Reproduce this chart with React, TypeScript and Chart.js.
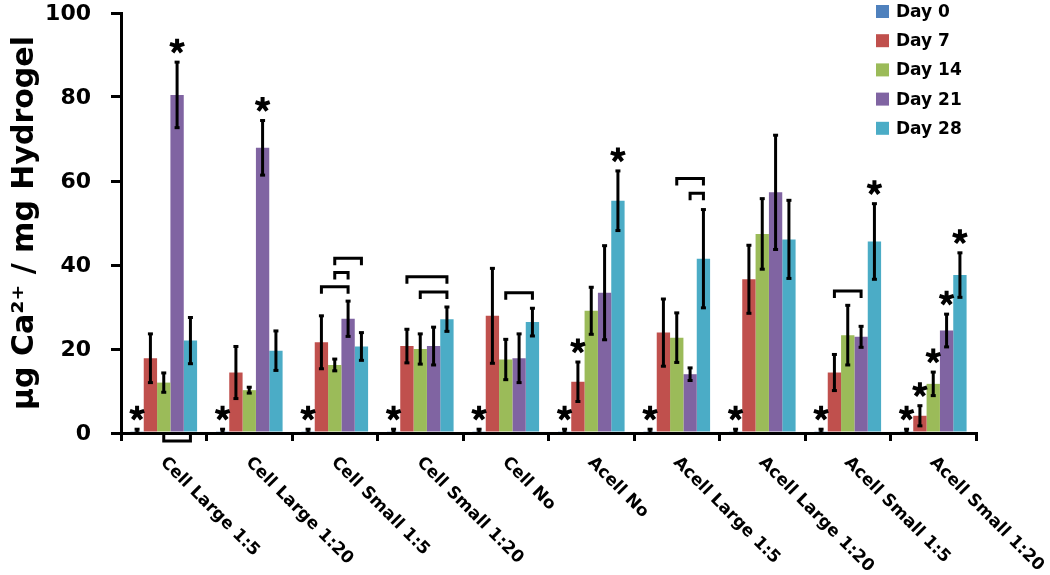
import React, { useEffect, useRef } from 'react';
import { Chart, registerables } from 'chart.js';

Chart.register(...registerables);

const FONT = '"DejaVu Sans", sans-serif';

const categories = [
  'Cell Large 1:5',
  'Cell Large 1:20',
  'Cell Small 1:5',
  'Cell Small 1:20',
  'Cell No',
  'Acell No',
  'Acell Large 1:5',
  'Acell Large 1:20',
  'Acell Small 1:5',
  'Acell Small 1:20',
];

const seriesLabels = ['Day 0', 'Day 7', 'Day 14', 'Day 21', 'Day 28'];
const seriesColors = ['#4F81BD', '#C0504D', '#9BBB59', '#8064A2', '#4BACC6'];

const day0 = [0.3, 0.3, 0.3, 0.3, 0.3, 0.3, 0.3, 0.3, 0.3, 0.3];
const day7 = [17.8, 14.4, 21.6, 20.7, 27.9, 12.2, 23.9, 36.6, 14.4, 4.1];
const day14 = [12.0, 10.2, 16.2, 20.0, 17.5, 29.1, 22.7, 47.4, 23.3, 11.7];
const day21 = [80.5, 67.9, 27.2, 20.7, 17.8, 33.4, 14.0, 57.3, 22.9, 24.4];
const day28 = [22.0, 19.6, 20.6, 27.1, 26.4, 55.3, 41.5, 46.1, 45.6, 37.6];

const day0Err = [0.6, 0.6, 0.6, 0.6, 0.6, 0.6, 0.6, 0.6, 0.6, 0.6];
const day7Err = [5.8, 6.2, 6.3, 4.0, 11.3, 4.7, 8.0, 8.1, 4.3, 2.4];
const day14Err = [2.3, 0.7, 1.4, 3.6, 4.8, 5.6, 5.9, 8.4, 7.1, 2.8];
const day21Err = [7.8, 6.5, 4.2, 4.5, 5.8, 11.2, 1.5, 13.6, 2.5, 3.9];
const day28Err = [5.5, 4.7, 3.3, 2.9, 3.3, 7.1, 11.7, 9.3, 9.0, 5.3];

// significance stars (1 = star above the bar)
const day0Star = [1, 1, 1, 1, 1, 1, 1, 1, 1, 1];
const day7Star = [0, 0, 0, 0, 0, 1, 0, 0, 0, 1];
const day14Star = [0, 0, 0, 0, 0, 0, 0, 0, 0, 1];
const day21Star = [1, 1, 0, 0, 0, 0, 0, 0, 0, 1];
const day28Star = [0, 0, 0, 0, 0, 1, 0, 0, 1, 1];

// comparison brackets: group index, from series, to series, level (data units)
const bracketGroup = [0, 2, 2, 2, 3, 3, 4, 6, 6, 8];
const bracketFrom = [2, 1, 2, 2, 1, 2, 2, 2, 3, 1];
const bracketTo = [4, 3, 3, 4, 4, 4, 4, 4, 4, 3];
const bracketLevel = [-1.9, 34.8, 38.2, 41.6, 37.2, 33.6, 33.4, 60.6, 57.1, 33.8];

const yMin = 0;
const yMax = 100;
const yStep = 20;

const seriesData = [day0, day7, day14, day21, day28];
const seriesErr = [day0Err, day7Err, day14Err, day21Err, day28Err];
const seriesStar = [day0Star, day7Star, day14Star, day21Star, day28Star];

function drawStar(ctx: CanvasRenderingContext2D, x: number, y: number) {
  const r = 7.5;
  ctx.save();
  ctx.lineWidth = 4;
  ctx.lineCap = 'butt';
  ctx.strokeStyle = '#000';
  ctx.beginPath();
  for (let k = 0; k < 5; k++) {
    const a = -Math.PI / 2 + (k * 2 * Math.PI) / 5;
    ctx.moveTo(x, y);
    ctx.lineTo(x + r * Math.cos(a), y + r * Math.sin(a));
  }
  ctx.stroke();
  ctx.restore();
}

const annotPlugin = {
  id: 'annot',
  afterDatasetsDraw(chart: any) {
    const ctx: CanvasRenderingContext2D = chart.ctx;
    const ys = chart.scales.y;
    ctx.save();
    ctx.fillStyle = '#000';
    ctx.strokeStyle = '#000';
    chart.data.datasets.forEach((ds: any, di: number) => {
      const meta = chart.getDatasetMeta(di);
      meta.data.forEach((bar: any, i: number) => {
        const v = ds.data[i];
        const e = seriesErr[di][i];
        const x = bar.x;
        const yTop = ys.getPixelForValue(v + e);
        const yBot = ys.getPixelForValue(Math.max(0, v - e));
        ctx.lineWidth = 3;
        ctx.beginPath();
        ctx.moveTo(x, yTop);
        ctx.lineTo(x, yBot);
        ctx.stroke();
        ctx.fillRect(x - 2.5, yTop - 1.5, 5, 3);
        ctx.fillRect(x - 2.5, yBot - 1.5, 5, 3);
        if (seriesStar[di][i]) drawStar(ctx, x, yTop - 16);
      });
    });
    // brackets
    ctx.lineWidth = 3;
    ctx.lineJoin = 'miter';
    for (let k = 0; k < bracketGroup.length; k++) {
      const g = bracketGroup[k];
      const b1 = chart.getDatasetMeta(bracketFrom[k]).data[g];
      const b2 = chart.getDatasetMeta(bracketTo[k]).data[g];
      const yp = ys.getPixelForValue(bracketLevel[k]);
      const dir = bracketLevel[k] < 0 ? -1 : 1;
      const leg = 7;
      ctx.beginPath();
      ctx.moveTo(b1.x, yp + dir * leg);
      ctx.lineTo(b1.x, yp);
      ctx.lineTo(b2.x, yp);
      ctx.lineTo(b2.x, yp + dir * leg);
      ctx.stroke();
    }
    ctx.restore();
  },
  afterDraw(chart: any) {
    const ctx: CanvasRenderingContext2D = chart.ctx;
    const xs = chart.scales.x;
    const ys = chart.scales.y;
    ctx.save();
    ctx.fillStyle = '#000';
    // y tick labels (from the scale's own ticks)
    ctx.font = `bold 22px ${FONT}`;
    ctx.textAlign = 'right';
    ctx.textBaseline = 'middle';
    ys.ticks.forEach((t: any) => {
      ctx.fillText(String(t.value), ys.right - 30, ys.getPixelForValue(t.value) + 1);
    });
    // rotated category labels (reading downward to the right)
    ctx.font = `bold 17px ${FONT}`;
    ctx.textAlign = 'left';
    ctx.textBaseline = 'alphabetic';
    chart.data.labels.forEach((lab: string, i: number) => {
      const cx = xs.getPixelForValue(i);
      ctx.save();
      ctx.translate(cx - 4, 463);
      ctx.rotate(Math.PI / 4);
      ctx.fillText(lab, 0, 0);
      ctx.restore();
    });
    // legend
    ctx.font = `bold 17px ${FONT}`;
    ctx.textBaseline = 'middle';
    chart.data.datasets.forEach((ds: any, di: number) => {
      const ry = 11.5 + di * 29.2;
      ctx.fillStyle = ds.backgroundColor;
      ctx.fillRect(876, ry - 6.5, 13, 13);
      ctx.fillStyle = '#000';
      ctx.fillText(ds.label, 896, ry + 1);
    });
    ctx.restore();
  },
};

export default function App() {
  const ref = useRef<HTMLCanvasElement>(null);
  useEffect(() => {
    if (!ref.current) return;
    const chart = new Chart(ref.current, {
      type: 'bar',
      data: {
        labels: categories,
        datasets: seriesLabels.map((label, i) => ({
          label,
          data: seriesData[i],
          backgroundColor: seriesColors[i],
          borderWidth: 0,
          categoryPercentage: 0.78,
          barPercentage: 1,
        })),
      },
      options: {
        animation: false,
        responsive: false,
        devicePixelRatio: 1,
        layout: { padding: { top: 13, right: 74, bottom: 0, left: 0 } },
        plugins: {
          legend: { display: false },
          tooltip: { enabled: false },
        },
        scales: {
          x: {
            grid: {
              display: true,
              drawOnChartArea: false,
              drawTicks: true,
              tickLength: 8,
              lineWidth: 3,
              color: '#000',
              offset: true,
            },
            border: { display: true, color: '#000', width: 3 },
            ticks: { display: false },
            afterFit: (s: any) => {
              s.height = 142;
              s.paddingLeft = 0;
              s.paddingRight = 0;
            },
          },
          y: {
            min: yMin,
            max: yMax,
            ticks: {
              stepSize: yStep,
              display: false,
            },
            grid: {
              drawOnChartArea: false,
              drawTicks: true,
              tickLength: 10,
              lineWidth: 3,
              color: '#000',
            },
            border: { display: true, color: '#000', width: 3 },
            title: {
              display: true,
              text: 'µg Ca²⁺ / mg Hydrogel',
              color: '#000',
              font: { family: FONT, size: 30, weight: 'bold', lineHeight: 1 },
              padding: { top: 10, bottom: 0 },
            },
            afterFit: (s: any) => {
              s.width = 121;
              s.paddingTop = 0;
              s.paddingBottom = 0;
            },
          },
        },
      },
      plugins: [annotPlugin],
    });
    return () => chart.destroy();
  }, []);
  return (
    <div style={{ position: 'fixed', left: 0, top: 0, width: 1050, height: 575, background: '#fff' }}>
      <canvas ref={ref} width={1050} height={575} />
    </div>
  );
}
